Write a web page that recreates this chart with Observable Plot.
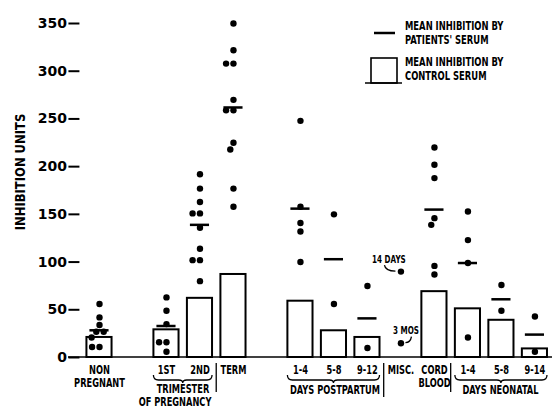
<!DOCTYPE html>
<html><head><meta charset="utf-8">
<script src="https://cdn.jsdelivr.net/npm/d3@7"></script>
<script src="https://cdn.jsdelivr.net/npm/@observablehq/plot@0.6"></script>
<style>
body{margin:0;background:#fff;}
#wrap{position:relative;width:552px;height:412px;}
</style></head><body><div id="wrap"></div>
<script>
// ---- data ----
const slots = ["NON PREGNANT","gap1","1ST","2ND","TERM","gap2","PP 1-4","PP 5-8","PP 9-12","MISC.","CORD BLOOD","NN 1-4","NN 5-8","NN 9-14"];
const groups = ["NON PREGNANT","1ST","2ND","TERM","PP 1-4","PP 5-8","PP 9-12","MISC.","CORD BLOOD","NN 1-4","NN 5-8","NN 9-14"];
const controlSerum = [21, 29, 62, 87, 59, 28, 21, null, 69, 51, 39, 9];
const patientMean = [28.5, 33, 139, 262, 156, 103, 41, null, 155, 99, 61, 24];
const patientValues = [
  [56, 42, 34, 27, 27, 21, 11, 11],
  [63, 49, 35, 16, 16, 6],
  [192, 177, 163, 151, 151, 136, 114, 102, 102, 80],
  [350, 322, 308, 308, 270, 259, 259, 225, 218, 177, 158],
  [248, 158, 141, 132, 100],
  [150, 56],
  [75, 10],
  [90, 15],
  [220, 202, 188, 146, 139, 96, 87],
  [153, 123, 99, 21],
  [76, 49],
  [43, 6]
];
const labelRow1 = ["NON","1ST","2ND","TERM","1-4","5-8","9-12","MISC.","CORD","1-4","5-8","9-14"];
const labelRow2 = ["PREGNANT","","","","","","","","BLOOD","","",""];
const spanLabels = ["TRIMESTER", "OF PREGNANCY", "DAYS POSTPARTUM", "DAYS NEONATAL"];
const miscNotes = ["14 DAYS", "3 MOS"];
const yTicks = [0, 50, 100, 150, 200, 250, 300, 350];
const yLabel = "INHIBITION UNITS";
const legendLabels = [["MEAN INHIBITION BY", "PATIENTS' SERUM"], ["MEAN INHIBITION BY", "CONTROL SERUM"]];

// ---- tables ----
const table = groups.map((g, i) => ({group: g, control: controlSerum[i], mean: patientMean[i], r1: labelRow1[i], r2: labelRow2[i]}));
const points = groups.flatMap((g, i) => patientValues[i].map(v => ({group: g, value: v})));
const misc = patientValues[groups.indexOf("MISC.")].map((v, i) => ({group: "MISC.", value: v, note: miscNotes[i]}));

const NARROW = "'DejaVu Sans Condensed','Liberation Sans Narrow',sans-serif";
const lab = {fontFamily: NARROW, fontWeight: "bold", fontSize: 11.5, fill: "black", frameAnchor: "bottom"};
const note = {fontFamily: NARROW, fontWeight: "bold", fontSize: 10, fill: "black"};

const plot = Plot.plot({
  width: 552, height: 412,
  marginTop: 23, marginBottom: 55, marginLeft: 68, marginRight: 0,
  style: {background: "white", color: "black"},
  fx: {domain: slots, paddingInner: 0.25, paddingOuter: 0.35, align: 0.786, round: false, axis: null, label: null},
  y: {domain: [0, 350], axis: null},
  marks: [
    Plot.axisY(yTicks, {fx: yTicks.map(() => groups[0]), facetAnchor: null, anchor: "left",
      tickSize: 11, tickPadding: 2, strokeWidth: 2,
      fontSize: 14, fontWeight: "bold", fontFamily: "'DejaVu Sans',sans-serif", label: null}),
    Plot.barY(table, {fx: "group", y: "control", fill: "white", stroke: "black", strokeWidth: 2}),
    Plot.tickY(table, {fx: "group", y: "mean", stroke: "black", strokeWidth: 2.5, insetLeft: 3, insetRight: 3}),
    Plot.dot(points, Plot.dodgeX("middle", {fx: "group", y: "value", r: 3.2, fill: "black"})),
    Plot.text(table, {fx: "group", text: "r1", dy: 16, ...lab}),
    Plot.text(table, {fx: "group", text: "r2", dy: 29.5, ...lab}),
    Plot.text(spanLabels.slice(0, 1), {fx: ["2ND"], dx: -17, dy: 35, ...lab}),
    Plot.text(spanLabels.slice(1, 2), {fx: ["2ND"], dx: -25, dy: 48.5, ...lab}),
    Plot.text(spanLabels.slice(2, 3), {fx: ["PP 5-8"], dx: 1, dy: 36, ...lab}),
    Plot.text(spanLabels.slice(3, 4), {fx: ["NN 5-8"], dx: -1, dy: 36, ...lab}),
    Plot.text(misc.slice(0, 1), {fx: "group", y: "value", text: "note", dx: -12, dy: -12, ...note}),
    Plot.text(misc.slice(1, 2), {fx: "group", y: "value", text: "note", dx: 5, dy: -12, ...note})
  ]
});
document.getElementById("wrap").appendChild(plot);

const svg = d3.select(plot);
// shift the y axis a little left of the first bar, as in the reference
svg.selectAll('g[aria-label="y-axis tick"], g[aria-label="y-axis tick label"]').each(function () {
  const t = this.getAttribute("transform") || "";
  this.setAttribute("transform", (t + " translate(-7,0)").trim());
});

// condense the lettering horizontally around its anchor (only condensed DejaVu is available)
function squeeze(sel, k) {
  sel.each(function () {
    const b = this.getBBox();
    if (!(b.width > 0)) return;
    const anchor = getComputedStyle(this).textAnchor;
    const ax = anchor === "middle" ? b.x + b.width / 2 : anchor === "end" ? b.x + b.width : b.x;
    const t = this.getAttribute("transform") || "";
    this.setAttribute("transform", `${t} translate(${ax},0) scale(${k},1) translate(${-ax},0)`.trim());
  });
}
svg.selectAll("g[font-size='11.5'] text").call(squeeze, 0.8);
svg.selectAll("g[font-size='10'] text").call(squeeze, 0.8);

// ---- decorations tied to the scales ----
const fx = plot.scale("fx"), ys = plot.scale("y");
const bw = fx.bandwidth;
const base = ys.apply(0);
const deco = svg.append("g").attr("fill", "none").attr("stroke", "black").attr("stroke-width", 1.3);
deco.append("line").attr("x1", fx.range[0]).attr("x2", fx.range[1]).attr("y1", base).attr("y2", base).attr("stroke-width", 1.6);
function brace(a, b) {
  const x0 = fx.apply(a), x1 = fx.apply(b) + bw, xm = (x0 + x1) / 2;
  const yT = base + 18, yM = base + 23, yB = base + 26;
  deco.append("path").attr("d",
    `M${x0},${yT} Q${x0},${yM} ${x0 + 5},${yM} L${xm - 4},${yM} Q${xm},${yM} ${xm},${yB} Q${xm},${yM} ${xm + 4},${yM} L${x1 - 5},${yM} Q${x1},${yM} ${x1},${yT}`);
}
brace("1ST", "2ND"); brace("PP 1-4", "PP 9-12"); brace("NN 1-4", "NN 9-14");
function sep(a, b, len) {
  const x = (fx.apply(a) + bw + fx.apply(b)) / 2;
  deco.append("line").attr("x1", x).attr("x2", x).attr("y1", base + 6).attr("y2", base + len);
}
sep("2ND", "TERM", 35); sep("PP 9-12", "MISC.", 40); sep("CORD BLOOD", "NN 1-4", 35);
const cx = fx.apply("MISC.") + bw / 2;
const c1 = ys.apply(misc[0].value), c2 = ys.apply(misc[1].value);
deco.append("path").attr("d", `M${cx - 16},${c1 - 6} Q${cx - 15},${c1} ${cx - 5},${c1}`);
deco.append("path").attr("d", `M${cx + 11},${c2 - 6} Q${cx + 10},${c2} ${cx + 5},${c2}`);

// ---- y label ----
const yl = svg.append("text").attr("transform", `translate(20,${(ys.apply(0) + ys.apply(350)) / 2 - 18}) rotate(-90)`)
  .attr("text-anchor", "middle").attr("dominant-baseline", "central")
  .attr("font-family", NARROW).attr("font-weight", "bold").attr("font-size", 14).attr("fill", "black").text(yLabel);
yl.call(squeeze, 0.92);

// ---- legend ----
const lg = svg.append("g").attr("font-family", NARROW).attr("font-weight", "bold").attr("font-size", 12).attr("text-anchor", "start");
lg.append("line").attr("x1", 374).attr("x2", 395).attr("y1", 33).attr("y2", 33).attr("stroke", "black").attr("stroke-width", 2.5);
lg.append("rect").attr("x", 371).attr("y", 58).attr("width", 26).attr("height", 25).attr("fill", "white").attr("stroke", "black").attr("stroke-width", 1.6);
lg.append("line").attr("x1", 365).attr("x2", 402).attr("y1", 83).attr("y2", 83).attr("stroke", "black").attr("stroke-width", 1.4);
legendLabels.forEach((lines, i) => lines.forEach((t, j) => {
  lg.append("text").attr("x", 405).attr("y", 30 + i * 36 + j * 14).attr("text-anchor", "start").text(t);
}));
lg.selectAll("text").call(squeeze, 0.78);
</script></body></html>
